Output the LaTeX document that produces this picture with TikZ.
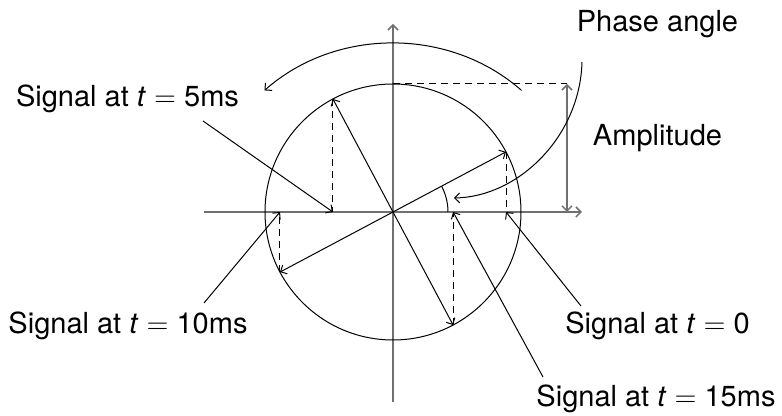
\documentclass[tikz,border=0pt]{standalone}
\usepackage{fontspec}
\setmainfont{TeX Gyre Heros}
\usetikzlibrary{arrows.meta}
\definecolor{axgray}{RGB}{112,112,112}
\tikzset{
  tip/.style  ={-{Straight Barb[length=2.5pt,width=5pt]}},
  axis/.style ={tip, draw=axgray, line width=0.75pt},
  vec/.style  ={tip, draw=black, line width=0.5pt},
  proj/.style ={draw=black, line width=0.5pt, dash pattern=on 3.5pt off 2.5pt},
  lbl/.style  ={font=\fontsize{14.5}{17}\selectfont, anchor=base, inner sep=0pt}
}
\begin{document}
\begin{tikzpicture}[x=0.5pt,y=0.5pt]
\useasboundingbox (-393,-204) rectangle (389,212);
\coordinate (O) at (0,0);
% axes and circle
\coordinate (xl) at (-189,0);
\coordinate (xr) at (189,0);
\coordinate (yb) at (0,-190);
\coordinate (yt) at (0,188);
\draw[axis] (xl) -- (xr);
\draw[axis] (yb) -- (yt);
\draw[line width=0.5pt] (O) circle[radius=128];
% rotating vector and its projections
\foreach \a/\n in {28/0,118/5,208/10,298/15} {
  \coordinate (v\n) at (\a:128);
  \coordinate (p\n) at (v\n |- O);
  \draw[vec] (O) -- (v\n);
  \draw[proj] (v\n) -- (p\n);
}
\coordinate (a0) at (0:55);
\draw[line width=0.5pt] (a0) arc[start angle=0, end angle=28, radius=55];
\coordinate (r0) at (46:185 and 169);
\draw[vec] (r0) arc[start angle=46, end angle=134, x radius=185, y radius=169];
% amplitude
\coordinate (top) at (0,128);
\coordinate (ampT) at (174,128);
\coordinate (ampB) at (174,0);
\draw[proj] (top) -- (ampT);
\draw[axis, {Straight Barb[length=2.5pt,width=5pt]}-{Straight Barb[length=2.5pt,width=5pt]}] (ampB) -- (ampT);
% labels
\node[lbl] (lphase) at (264.5,180) {Phase angle};
\node[lbl] (lamp) at (264.5,66) {Amplitude};
\node[lbl] (l5) at (-265.5,105) {Signal at \textit{t} $=$ 5ms};
\node[lbl] (l10) at (-265,-122) {Signal at \textit{t} $=$ 10ms};
\node[lbl] (l0) at (264.5,-122) {Signal at \textit{t} $=$ 0};
\node[lbl] (l15) at (263,-195) {Signal at \textit{t} $=$ 15ms};
\coordinate (ph) at (189,150);
\coordinate (phEnd) at (61,14);
\draw[vec] (ph) .. controls (187,75) and (125,15) .. (phEnd);
\coordinate (s5) at (-190,91);
\coordinate (s10) at (-189,-91);
\coordinate (s0) at (188,-94);
\coordinate (s15) at (150,-165);
\draw[vec] (s5) -- (p5);
\draw[vec] (s10) -- (p10);
\draw[vec] (s0) -- (p0);
\draw[vec] (s15) -- (p15);
\end{tikzpicture}
\end{document}
